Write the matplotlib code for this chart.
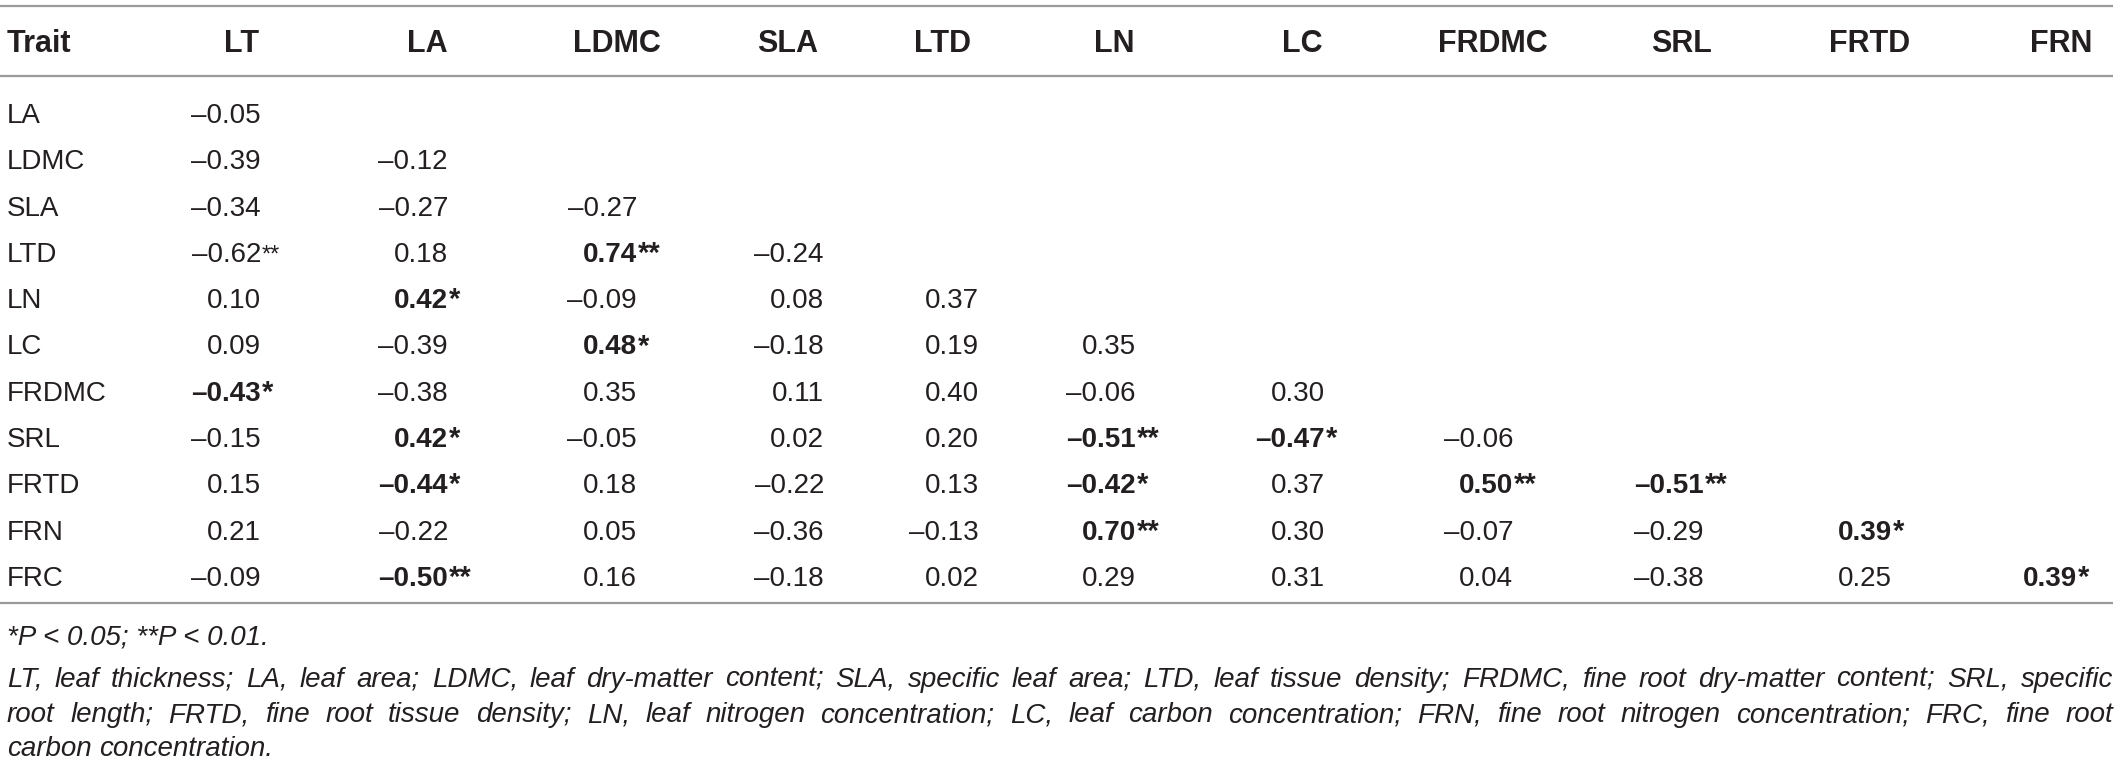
import matplotlib
matplotlib.use("Agg")
import matplotlib.pyplot as plt

# --- data -------------------------------------------------------------
col_traits = ["LT", "LA", "LDMC", "SLA", "LTD", "LN", "LC", "FRDMC", "SRL", "FRTD", "FRN"]
row_traits = ["LA", "LDMC", "SLA", "LTD", "LN", "LC", "FRDMC", "SRL", "FRTD", "FRN", "FRC"]

r_values = [
    [-0.05],
    [-0.39, -0.12],
    [-0.34, -0.27, -0.27],
    [-0.62, 0.18, 0.74, -0.24],
    [0.10, 0.42, -0.09, 0.08, 0.37],
    [0.09, -0.39, 0.48, -0.18, 0.19, 0.35],
    [-0.43, -0.38, 0.35, 0.11, 0.40, -0.06, 0.30],
    [-0.15, 0.42, -0.05, 0.02, 0.20, -0.51, -0.47, -0.06],
    [0.15, -0.44, 0.18, -0.22, 0.13, -0.42, 0.37, 0.50, -0.51],
    [0.21, -0.22, 0.05, -0.36, -0.13, 0.70, 0.30, -0.07, -0.29, 0.39],
    [-0.09, -0.50, 0.16, -0.18, 0.02, 0.29, 0.31, 0.04, -0.38, 0.25, 0.39],
]
stars = [
    [""],
    ["", ""],
    ["", "", ""],
    ["**", "", "**", ""],
    ["", "*", "", "", ""],
    ["", "", "*", "", "", ""],
    ["*", "", "", "", "", "", ""],
    ["", "*", "", "", "", "**", "*", ""],
    ["", "*", "", "", "", "*", "", "**", "**"],
    ["", "", "", "", "", "**", "", "", "", "*"],
    ["", "**", "", "", "", "", "", "", "", "", "*"],
]
bold = [
    [0],
    [0, 0],
    [0, 0, 0],
    [0, 0, 1, 0],
    [0, 1, 0, 0, 0],
    [0, 0, 1, 0, 0, 0],
    [1, 0, 0, 0, 0, 0, 0],
    [0, 1, 0, 0, 0, 1, 1, 0],
    [0, 1, 0, 0, 0, 1, 0, 1, 1],
    [0, 0, 0, 0, 0, 1, 0, 0, 0, 1],
    [0, 1, 0, 0, 0, 0, 0, 0, 0, 0, 1],
]

note_sig = "*P < 0.05; **P < 0.01."
note_lines = [
    "LT, leaf thickness; LA, leaf area; LDMC, leaf dry-matter content; SLA, specific leaf area; "
    "LTD, leaf tissue density; FRDMC, fine root dry-matter content; SRL, specific",
    "root length; FRTD, fine root tissue density; LN, leaf nitrogen concentration; LC, leaf carbon "
    "concentration; FRN, fine root nitrogen concentration; FRC, fine root",
    "carbon concentration.",
]

# --- layout (pixels) ----------------------------------------------------
W, H = 2118, 767
head_right = [259, 448, 661, 818, 971, 1135, 1323, 1548, 1712, 1910, 2092]
num_right = [261, 448, 637, 824, 979, 1136, 1325, 1513, 1704, 1892, 2077]
left_x = 7
right_x = 2113
head_base = 52
row_base0 = 123
row_step = 46.3
note_base = [645, 687, 722, 756]

txt_color = "#231f20"
line_color = "#9a9a9a"
fam = ["Liberation Sans", "DejaVu Sans"]

fig = plt.figure(figsize=(W / 100, H / 100), dpi=100)
ax = fig.add_axes([0, 0, 1, 1])
ax.set_xlim(0, W)
ax.set_ylim(H, 0)
ax.axis("off")

for y in (6, 76, 603):
    ax.plot([0, right_x], [y, y], color=line_color, lw=1.6, solid_capstyle="butt")

# header
ax.text(left_x, head_base, "Trait", ha="left", va="baseline", fontsize=22,
        fontweight="bold", family=fam, color=txt_color)
for name, xr in zip(col_traits, head_right):
    ax.text(xr, head_base, name, ha="right", va="baseline", fontsize=22,
            fontweight="bold", family=fam, color=txt_color)

# body
for i, row in enumerate(row_traits):
    yb = row_base0 + i * row_step
    ax.text(left_x, yb, row, ha="left", va="baseline", fontsize=20,
            family=fam, color=txt_color)
    for j, v in enumerate(r_values[i]):
        s = f"{abs(v):.2f}"
        if v < 0:
            s = "\u2013" + s
        w = "bold" if bold[i][j] else "normal"
        ax.text(num_right[j], yb, s, ha="right", va="baseline", fontsize=20,
                fontweight=w, family=fam, color=txt_color)
        if stars[i][j]:
            ax.text(num_right[j] + 1, yb, stars[i][j], ha="left", va="baseline",
                    fontsize=21 if bold[i][j] else 17, fontweight=w,
                    family=fam, color=txt_color)

# footnotes
ax.text(left_x, note_base[0], note_sig, ha="left", va="baseline", fontsize=20,
        style="italic", family=fam, color=txt_color)

renderer = fig.canvas.get_renderer()
inv = ax.transData.inverted()


def justify(line, yb, full):
    words = line.split(" ")
    objs = [ax.text(0, yb, wd, ha="left", va="baseline", fontsize=20, style="italic",
                    family=fam, color=txt_color) for wd in words]
    widths = []
    for t in objs:
        bb = t.get_window_extent(renderer=renderer)
        x0 = inv.transform((bb.x0, bb.y0))[0]
        x1 = inv.transform((bb.x1, bb.y0))[0]
        widths.append(x1 - x0)
    space = 7.0
    if full and len(words) > 1:
        space = (right_x - left_x - sum(widths)) / (len(words) - 1)
    x = left_x
    for t, wdt in zip(objs, widths):
        t.set_x(x)
        x += wdt + space


for k, line in enumerate(note_lines):
    justify(line, note_base[k + 1], k < len(note_lines) - 1)

fig.savefig("out.png", dpi=100)
